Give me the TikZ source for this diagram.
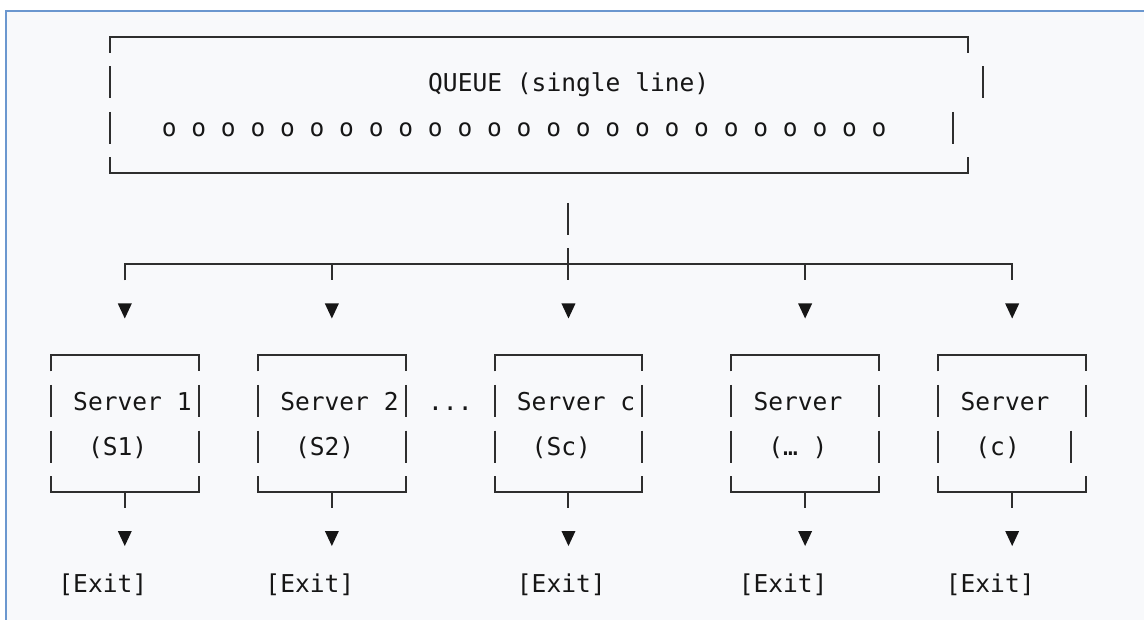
\documentclass[tikz,border=0pt]{standalone}
\usepackage{fontspec}
\newfontfamily\asciimono{DejaVu Sans Mono}
\usetikzlibrary{calc}

\definecolor{ink}{HTML}{161616}
\definecolor{rule}{HTML}{2E2E2E}
\definecolor{panel}{HTML}{F8F9FB}
\definecolor{edge}{HTML}{6B97CF}

% character grid: column centre and row centre
\newcommand{\colx}[1]{110+14.79*(#1)}
\newcommand{\rowy}[1]{37+45.5*(#1)}
% a full-height vertical bar in one character cell
\newcommand{\vbar}[2]{\draw[stroke] ({\colx{#1}},{\rowy{#2}-16}) -- ({\colx{#1}},{\rowy{#2}+16});}
% a small downward pointer in one character cell
\newcommand{\pointer}[2]{\fill[ink] ({\colx{#1}-7},{\rowy{#2}-6.5}) -- ({\colx{#1}+7},{\rowy{#2}-6.5}) -- ({\colx{#1}},{\rowy{#2}+8.5}) -- cycle;}

\tikzset{
  x=1pt, y=-1pt,
  stroke/.style={draw=rule, line width=2pt},
  txt/.style={font=\asciimono\fontsize{24.57}{28}\selectfont, text=ink, inner sep=0pt, anchor=base west},
  chr/.style={txt, anchor=base},
}

\begin{document}
\begin{tikzpicture}
\useasboundingbox (0,0) rectangle (1144,620);
\fill[white] (0,0) rectangle (1144,620);
\fill[panel] (6,11) rectangle (1150,630);
\draw[edge, line width=2.2pt] (6,630) -- (6,11) -- (1150,11);

% ---- queue box ----
\coordinate (qtl) at ({\colx{0}},{\rowy{0}});
\coordinate (qtr) at ({\colx{58}},{\rowy{0}});
\coordinate (qbl) at ({\colx{0}},{\rowy{3}});
\coordinate (qbr) at ({\colx{58}},{\rowy{3}});
\draw[stroke] ($(qtl)+(0,16)$) -- (qtl) -- (qtr) -- ($(qtr)+(0,16)$);
\draw[stroke] ($(qbl)+(0,-16)$) -- (qbl) -- (qbr) -- ($(qbr)+(0,-16)$);
\vbar{0}{1} \vbar{59}{1}
\vbar{0}{2} \vbar{57}{2}
\node[txt] (qtitle) at ({\colx{22}-7.395},{\rowy{1}+9}) {QUEUE (single line)};
\foreach \i in {0,...,24}
  \node[chr] (o\i) at ({\colx{4+2*\i}},{\rowy{2}+9}) {o};

% ---- feed line and distribution bar ----
\coordinate (drop) at ({\colx{31}},{\rowy{4}});
\draw[stroke] ($(drop)+(0,-16)$) -- ($(drop)+(0,16)$);
\coordinate (b1) at ({\colx{1}},{\rowy{5}});
\coordinate (b2) at ({\colx{15}},{\rowy{5}});
\coordinate (b3) at ({\colx{31}},{\rowy{5}});
\coordinate (b4) at ({\colx{47}},{\rowy{5}});
\coordinate (b5) at ({\colx{61}},{\rowy{5}});
\draw[stroke] ($(b1)+(0,16)$) -- (b1) -- (b5) -- ($(b5)+(0,16)$);
\draw[stroke] (b2) -- ++(0,16);
\draw[stroke] ($(b3)+(0,-16)$) -- ++(0,32);
\draw[stroke] (b4) -- ++(0,16);

% ---- servers ----
\foreach \L/\R/\C/\Rb/\ta/\la/\tb/\lb/\te/\n in {
  -4/6/1/6/-2/{Server 1}/-1/{(S1)}/-3/1,
  10/20/15/20/12/{Server 2}/13/{(S2)}/11/2,
  26/36/31/36/28/{Server c}/29/{(Sc)}/28/3,
  42/52/47/52/44/{Server}/45/{(… )}/43/4,
  56/66/61/65/58/{Server}/59/{(c)}/57/5}
{
  \pointer{\C}{6}
  \coordinate (tl\n) at ({\colx{\L}},{\rowy{7}});
  \coordinate (tr\n) at ({\colx{\R}},{\rowy{7}});
  \coordinate (bl\n) at ({\colx{\L}},{\rowy{10}});
  \coordinate (br\n) at ({\colx{\R}},{\rowy{10}});
  \coordinate (out\n) at ({\colx{\C}},{\rowy{10}});
  \draw[stroke] ($(tl\n)+(0,16)$) -- (tl\n) -- (tr\n) -- ($(tr\n)+(0,16)$);
  \draw[stroke] ($(bl\n)+(0,-16)$) -- (bl\n) -- (br\n) -- ($(br\n)+(0,-16)$);
  \draw[stroke] (out\n) -- ++(0,16);
  \vbar{\L}{8} \vbar{\R}{8}
  \vbar{\L}{9} \vbar{\Rb}{9}
  \node[txt] (name\n) at ({\colx{\ta}-7.395},{\rowy{8}+9}) {\la};
  \node[txt] (tag\n) at ({\colx{\tb}-7.395},{\rowy{9}+9}) {\lb};
  \pointer{\C}{11}
  \node[txt] (exit\n) at ({\colx{\te}-7.395},{\rowy{12}+9}) {[Exit]};
}
\node[txt] (gap) at ({\colx{22}-7.395},{\rowy{8}+9}) {...};
\end{tikzpicture}
\end{document}
